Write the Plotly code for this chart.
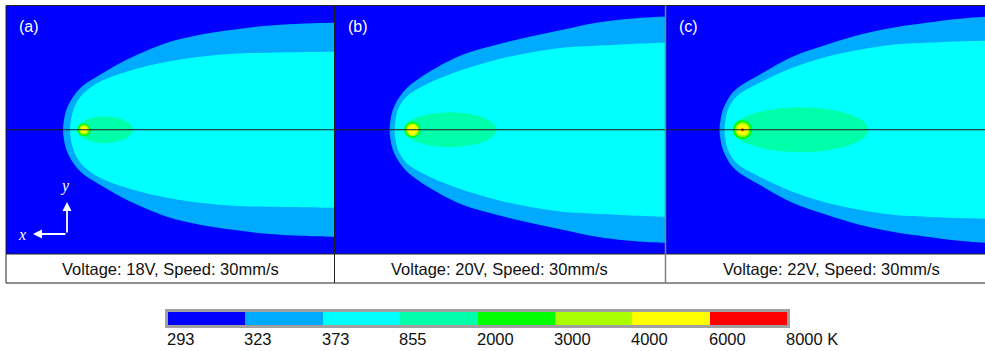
import numpy as np
import plotly.graph_objects as go

# ---------------- data ----------------
level_labels = ["293", "323", "373", "855", "2000", "3000", "4000", "6000", "8000 K"]
level_colors = ["#0000FF", "#00AAFF", "#00FFFF", "#00FFAA", "#00FF00",
                "#AAFF00", "#FFFF00", "#FF0000"]
panel_tags = ["(a)", "(b)", "(c)"]
captions = ["Voltage: 18V, Speed: 30mm/s",
            "Voltage: 20V, Speed: 30mm/s",
            "Voltage: 22V, Speed: 30mm/s"]

# isotherm 323 K (outer) : distance from panel left edge, half-width
a_iso323_x = [57, 58, 60, 64, 70, 78, 94, 111, 127, 161, 194, 227, 261, 294, 327, 345]
a_iso323_hw = [0, 10, 19, 28, 37, 45, 55, 65, 73, 87, 95, 100, 104, 106, 107, 107]
b_iso323_x = [55, 56, 58, 62, 68, 76, 95, 128, 162, 195, 228, 262, 295, 328, 345]
b_iso323_hw = [0, 10, 19, 28, 37, 45, 58, 75, 85, 93, 100, 107, 111, 113, 113]
c_iso323_x = [54, 55, 57, 61, 67, 75, 94, 127, 161, 194, 227, 261, 294, 319, 345]
c_iso323_hw = [0, 10, 19, 28, 37, 44, 55, 73, 85, 95, 102, 107, 111, 113, 114]

# isotherm 373 K (inner)
a_iso373_x = [64, 65, 67, 71, 78, 94, 127, 161, 194, 227, 261, 327, 345]
a_iso373_hw = [0, 10, 19, 28, 37, 48, 60, 68, 73, 76, 77, 78, 78]
b_iso373_x = [60, 61, 63, 67, 74, 95, 128, 162, 195, 228, 262, 328, 345]
b_iso373_hw = [0, 10, 19, 27, 35, 47, 60, 70, 77, 82, 84, 87, 87]
c_iso373_x = [59, 60, 62, 66, 73, 94, 127, 161, 194, 227, 261, 319, 345]
c_iso373_hw = [0, 10, 19, 27, 35, 47, 62, 73, 80, 85, 87, 89, 89]

# isotherm 855 K : x start, x end, half-height
iso855_x0 = [71, 69, 67]
iso855_x1 = [127, 162, 203]
iso855_hw = [13.5, 17.5, 22.5]

# hot spot centre and radii of 2000, 3000, 4000, 6000 K isotherms
spot_x = [78, 78, 77]
spot_r2000 = [6.5, 8, 9.5]
spot_r3000 = [5, 6.5, 7.5]
spot_r4000 = [3.5, 5, 5.5]
spot_r6000 = [0, 0, 1.5]

# ---------------- layout geometry (pixels) ----------------
W, H = 985, 351
def px(x):
    return x / W
def py(y):
    return 1 - y / H

panel_left = [6, 334.5, 665.5]
panel_right = [334.5, 665.5, 985]
panel_width = [328.5, 331, 331]
top, bottom = 5.5, 254
caption_bottom = 283
half_h = (bottom - top) / 2
centre_y = (top + bottom) / 2

iso323 = [(a_iso323_x, a_iso323_hw), (b_iso323_x, b_iso323_hw), (c_iso323_x, c_iso323_hw)]
iso373 = [(a_iso373_x, a_iso373_hw), (b_iso373_x, b_iso373_hw), (c_iso373_x, c_iso373_hw)]

fig = go.Figure()

def closed_outline(xs, hws):
    xs = list(xs); hws = list(hws)
    x = xs[::-1] + xs[1:]
    y = hws[::-1] + [-h for h in hws[1:]]
    return x, y

t = np.linspace(0, 2 * np.pi, 80)

for i in range(3):
    ax = "x" if i == 0 else f"x{i+1}"
    ay = "y" if i == 0 else f"y{i+1}"
    common = dict(xaxis=ax, yaxis=ay, mode="lines", fill="toself",
                  hoverinfo="skip", showlegend=False)
    x, y = closed_outline(*iso323[i])
    fig.add_trace(go.Scatter(x=x, y=y, fillcolor=level_colors[1],
                             line=dict(width=0, shape="spline", smoothing=1.0, color=level_colors[1]), **common))
    x, y = closed_outline(*iso373[i])
    fig.add_trace(go.Scatter(x=x, y=y, fillcolor=level_colors[2],
                             line=dict(width=0, shape="spline", smoothing=1.0, color=level_colors[2]), **common))
    cx = (iso855_x0[i] + iso855_x1[i]) / 2
    rx = (iso855_x1[i] - iso855_x0[i]) / 2
    fig.add_trace(go.Scatter(x=cx + rx * np.cos(t), y=iso855_hw[i] * np.sin(t),
                             fillcolor=level_colors[3], line=dict(width=0, color=level_colors[3]), **common))
    for r, col in zip([spot_r2000[i], spot_r3000[i], spot_r4000[i], spot_r6000[i]], level_colors[4:8]):
        if r > 0:
            fig.add_trace(go.Scatter(x=spot_x[i] + r * np.cos(t), y=r * np.sin(t),
                                     fillcolor=col, line=dict(width=0, color=col), **common))

# colour bar as heatmap
fig.add_trace(go.Heatmap(
    z=[list(range(8))], x=[k + 0.5 for k in range(8)], y=[0],
    colorscale=[[v, c] for k, c in enumerate(level_colors) for v in (k / 8, (k + 1) / 8)],
    zmin=-0.5, zmax=7.5, showscale=False, hoverinfo="skip",
    xaxis="x4", yaxis="y4"))

layout = dict(width=W, height=H, margin=dict(l=0, r=0, t=0, b=0),
              paper_bgcolor="white", plot_bgcolor=level_colors[0],
              font=dict(family="Liberation Sans, Arial, sans-serif", color="black"))
for i in range(3):
    xk = "xaxis" if i == 0 else f"xaxis{i+1}"
    yk = "yaxis" if i == 0 else f"yaxis{i+1}"
    layout[xk] = dict(domain=[px(panel_left[i]), px(panel_right[i])],
                      range=[0, panel_right[i] - panel_left[i]], visible=False, fixedrange=True)
    layout[yk] = dict(domain=[py(bottom), py(top)], range=[-half_h, half_h],
                      visible=False, fixedrange=True, anchor="x" if i == 0 else f"x{i+1}")
layout["xaxis4"] = dict(domain=[px(168), px(787)], range=[0, 8], visible=False, anchor="y4")
layout["yaxis4"] = dict(domain=[py(325), py(312)], range=[-0.5, 0.5], visible=False, anchor="x4")

shapes = []
line_dark = dict(color="#222222", width=1)
shapes.append(dict(type="line", xref="paper", yref="paper", x0=px(6), x1=1,
                   y0=py(centre_y), y1=py(centre_y), line=dict(color="#1a1a1a", width=1)))
shapes.append(dict(type="line", xref="paper", yref="paper", x0=px(6), x1=1, y0=py(top), y1=py(top), line=line_dark))
shapes.append(dict(type="line", xref="paper", yref="paper", x0=px(6), x1=1, y0=py(bottom), y1=py(bottom), line=line_dark))
shapes.append(dict(type="line", xref="paper", yref="paper", x0=px(6), x1=1,
                   y0=py(caption_bottom), y1=py(caption_bottom), line=line_dark))
shapes.append(dict(type="line", xref="paper", yref="paper", x0=px(6), x1=px(6),
                   y0=py(top), y1=py(caption_bottom), line=line_dark))
shapes.append(dict(type="line", xref="paper", yref="paper", x0=px(334.5), x1=px(334.5),
                   y0=py(top), y1=py(caption_bottom), line=line_dark))
shapes.append(dict(type="line", xref="paper", yref="paper", x0=px(665.5), x1=px(665.5),
                   y0=py(top), y1=py(caption_bottom), line=dict(color="#808080", width=1.5)))
shapes.append(dict(type="rect", xref="paper", yref="paper", x0=px(166.5), x1=px(788.5),
                   y0=py(326.5), y1=py(310.5), line=dict(color="#A0A0A0", width=3)))
layout["shapes"] = shapes

ann = []
for i in range(3):
    ann.append(dict(text=panel_tags[i], xref="paper", yref="paper", x=px(panel_left[i] + 11),
                    y=py(26), xanchor="left", yanchor="middle", showarrow=False,
                    font=dict(size=16, color="white")))
    ann.append(dict(text=captions[i], xref="paper", yref="paper",
                    x=px(panel_left[i] + panel_width[i] / 2), y=py(269),
                    xanchor="center", yanchor="middle", showarrow=False,
                    font=dict(size=16.5, color="#111111")))
for k, lab in enumerate(level_labels):
    ann.append(dict(text=lab, xref="x4", yref="paper", x=k, y=py(338.5),
                    xanchor="left", yanchor="middle", showarrow=False, xshift=-3,
                    font=dict(size=16.5, color="#111111",
                              family="Liberation Sans Narrow, Arial Narrow, Liberation Sans, Arial")))
ax_y = centre_y - 234
ann.append(dict(x=27, y=ax_y, ax=61, ay=ax_y, xref="x", yref="y", axref="x", ayref="y",
                text="", showarrow=True, arrowhead=2, arrowsize=1, arrowwidth=1.8, arrowcolor="white"))
ann.append(dict(x=61, y=centre_y - 202, ax=61, ay=ax_y, xref="x", yref="y", axref="x", ayref="y",
                text="", showarrow=True, arrowhead=2, arrowsize=1, arrowwidth=1.8, arrowcolor="white"))
ann.append(dict(x=16, y=ax_y, xref="x", yref="y", text="<i>x</i>", showarrow=False,
                font=dict(size=16, color="white", family="Liberation Serif, Times New Roman, serif")))
ann.append(dict(x=59, y=centre_y - 186, xref="x", yref="y", text="<i>y</i>", showarrow=False,
                font=dict(size=16, color="white", family="Liberation Serif, Times New Roman, serif")))
layout["annotations"] = ann

fig.update_layout(**layout)
fig.write_html("out.html", config={"displayModeBar": False, "staticPlot": True},
               post_script="document.body.style.margin='0';document.body.style.padding='0';")
